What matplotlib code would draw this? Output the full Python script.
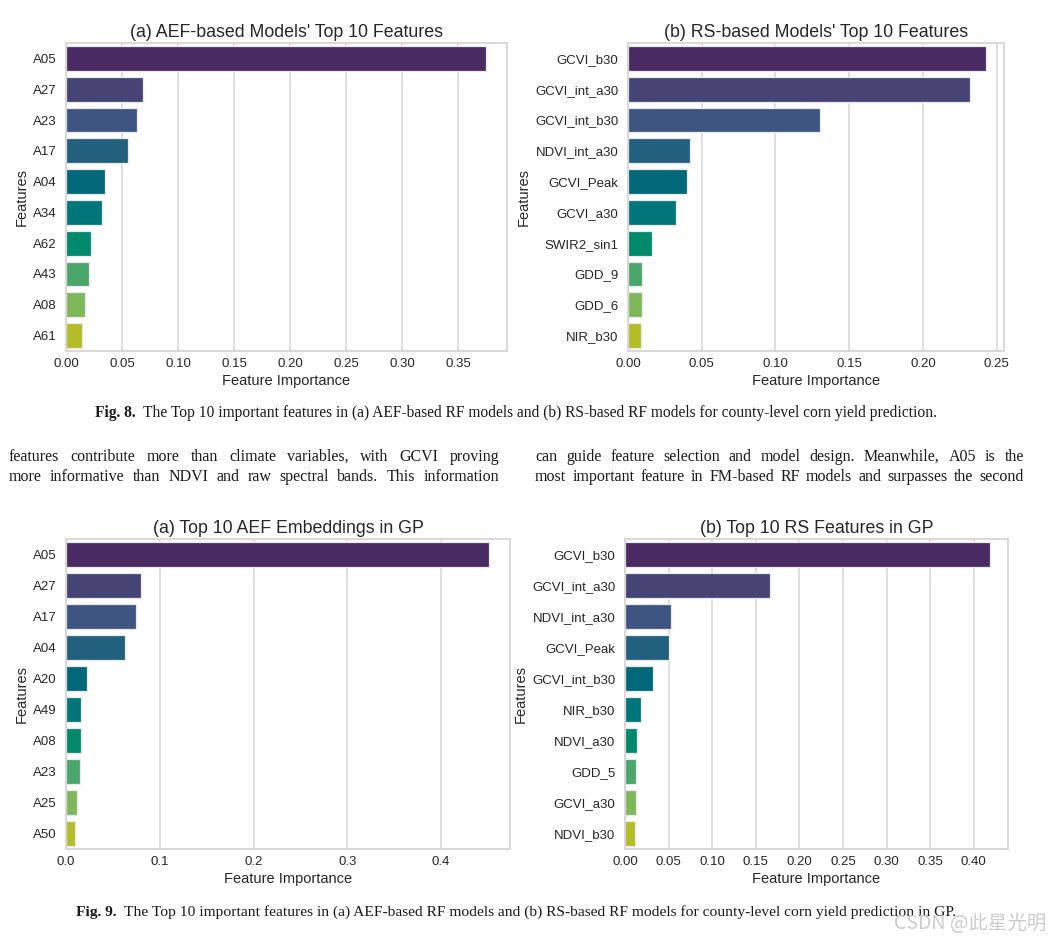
import matplotlib
matplotlib.use("Agg")
import matplotlib.pyplot as plt
import seaborn as sns

# ---------------- data ----------------
aef_rf_features = ["A05", "A27", "A23", "A17", "A04", "A34", "A62", "A43", "A08", "A61"]
aef_rf_values = [0.375, 0.069, 0.063, 0.055, 0.0345, 0.0324, 0.022, 0.0208, 0.017, 0.0146]

rs_rf_features = ["GCVI_b30", "GCVI_int_a30", "GCVI_int_b30", "NDVI_int_a30", "GCVI_Peak",
                  "GCVI_a30", "SWIR2_sin1", "GDD_9", "GDD_6", "NIR_b30"]
rs_rf_values = [0.2428, 0.232, 0.130, 0.042, 0.0398, 0.0323, 0.0163, 0.0095, 0.0092, 0.0088]

aef_gp_features = ["A05", "A27", "A17", "A04", "A20", "A49", "A08", "A23", "A25", "A50"]
aef_gp_values = [0.451, 0.0796, 0.0747, 0.0629, 0.0224, 0.0162, 0.0158, 0.0153, 0.0114, 0.0100]

rs_gp_features = ["GCVI_b30", "GCVI_int_a30", "NDVI_int_a30", "GCVI_Peak", "GCVI_int_b30",
                  "NIR_b30", "NDVI_a30", "GDD_5", "GCVI_a30", "NDVI_b30"]
rs_gp_values = [0.4184, 0.166, 0.0524, 0.0509, 0.0326, 0.0188, 0.0142, 0.0123, 0.0122, 0.0115]

titles = ["(a) AEF-based Models' Top 10 Features", "(b) RS-based Models' Top 10 Features",
          "(a) Top 10 AEF Embeddings in GP", "(b) Top 10 RS Features in GP"]

caption8 = ("Fig. 8.", "The Top 10 important features in (a) AEF-based RF models and (b) RS-based RF models for county-level corn yield prediction.")
caption9 = ("Fig. 9.", "The Top 10 important features in (a) AEF-based RF models and (b) RS-based RF models for county-level corn yield prediction in GP.")
body_left = ["features contribute more than climate variables, with GCVI proving",
             "more informative than NDVI and raw spectral bands. This information"]
body_right = ["can guide feature selection and model design. Meanwhile, A05 is the",
              "most important feature in FM-based RF models and surpasses the second"]
watermark = "CSDN @此星光明"

# viridis-like palette as it appears in the reference
bar_colors = ["#4a2a62", "#464475", "#3d5580", "#23607e", "#006878",
              "#00767a", "#008a6c", "#4aa66a", "#7fb85a", "#b3bd25"]

# ---------------- style ----------------
sns.set_theme(style="whitegrid")
plt.rcParams["font.family"] = ["Liberation Sans", "DejaVu Sans"]
plt.rcParams["text.color"] = "#262626"
plt.rcParams["axes.labelcolor"] = "#262626"
plt.rcParams["xtick.color"] = "#262626"
plt.rcParams["ytick.color"] = "#262626"

W, H = 1049, 942
fig = plt.figure(figsize=(W / 100, H / 100), dpi=100)
fig.patch.set_facecolor("white")

def px_axes(l, t, r, b):
    return fig.add_axes([l / W, (H - b) / H, (r - l) / W, (b - t) / H])

boxes = [(66, 43, 507, 351), (628, 43, 1004, 351), (66, 539, 510, 849), (625, 539, 1008, 849)]
datasets = [(aef_rf_features, aef_rf_values), (rs_rf_features, rs_rf_values),
            (aef_gp_features, aef_gp_values), (rs_gp_features, rs_gp_values)]

for box, (feats, vals), title in zip(boxes, datasets, titles):
    ax = px_axes(*box)
    sns.barplot(x=vals, y=feats, hue=feats, palette=bar_colors, saturation=1,
                legend=False, ax=ax, orient="h", edgecolor="#e8e8ee", linewidth=0.9)
    ax.set_title(title, fontsize=12.8, pad=4)
    ax.set_xlabel("Feature Importance", fontsize=10.5, labelpad=3)
    ax.set_ylabel("Features", fontsize=10.5, labelpad=3)
    ax.tick_params(axis="both", labelsize=9.5, length=0)
    ax.tick_params(axis="y", pad=7)
    ax.tick_params(axis="x", pad=5)
    ax.grid(axis="x", color="#dcdcdc", linewidth=1.3)
    ax.grid(axis="y", visible=False)
    for s in ax.spines.values():
        s.set_color("#d6d6d6")
        s.set_linewidth(1.3)

# ---------------- text blocks ----------------
renderer = fig.canvas.get_renderer()
SERIF = ["Liberation Serif", "DejaVu Serif"]

def text_width(s, fs, weight="normal", family=SERIF):
    t = fig.text(0, 0, s, fontsize=fs, fontweight=weight, family=family)
    w = t.get_window_extent(renderer).width
    t.remove()
    return w

def put(x, y, s, fs, weight="normal", family=SERIF, color="#1a1a1a"):
    fig.text(x / W, (H - y) / H, s, fontsize=fs, fontweight=weight, family=family,
             color=color, va="baseline", ha="left")

def caption(cap, x0, x1, y):
    fs = 10.0
    gap_s = "  "
    total = text_width(cap[0], fs, "bold") + text_width(gap_s + cap[1], fs)
    fs = fs * (x1 - x0) / total
    wb = text_width(cap[0], fs, "bold")
    wg = text_width("n", fs) * 0.9
    put(x0, y, cap[0], fs, "bold")
    put(x0 + wb + wg, y, cap[1], fs)

def justify(line, x0, x1, y, fs):
    words = line.split(" ")
    widths = [text_width(w_, fs) for w_ in words]
    gap = (x1 - x0 - sum(widths)) / (len(words) - 1)
    x = x0
    for w_, wd in zip(words, widths):
        put(x, y, w_, fs)
        x += wd + gap

caption(caption8, 95, 937, 417)
caption(caption9, 76, 955, 916)

fs_body = 11.5
for ln in body_left + body_right:
    nat = text_width(ln, fs_body)
    if nat > 490 * 0.985:
        fs_body *= 490 * 0.985 / nat
for i, ln in enumerate(body_left):
    justify(ln, 9, 499, 461 + 20 * i, fs_body)
for i, ln in enumerate(body_right):
    justify(ln, 535, 1024, 461 + 20 * i, fs_body)

fig.text(1046 / W, (H - 929) / H, watermark, fontsize=14, ha="right", va="baseline",
         color="#cccccc", family=["Noto Sans CJK SC", "DejaVu Sans"])

fig.savefig("out.png", dpi=100, facecolor="white")
